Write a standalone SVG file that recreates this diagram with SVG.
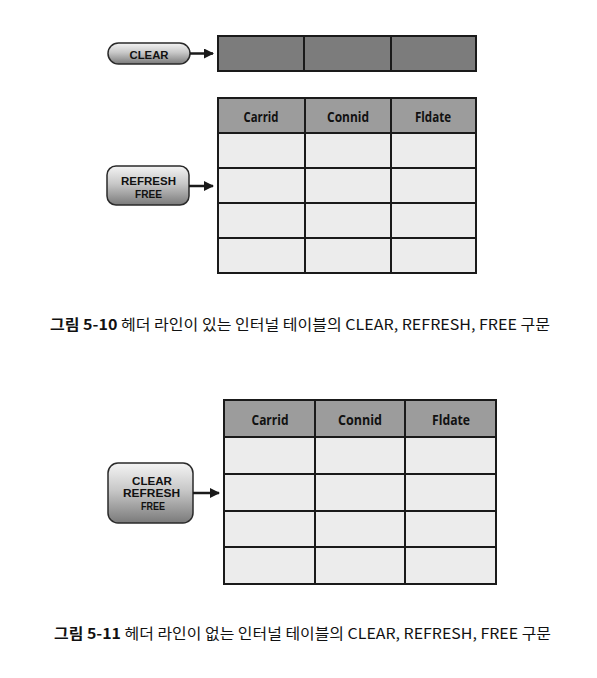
<svg xmlns="http://www.w3.org/2000/svg" width="597" height="678" viewBox="0 0 597 678">
<defs>
<linearGradient id="btn" x1="0" y1="0" x2="0" y2="1">
<stop offset="0" stop-color="#f4f4f4"/>
<stop offset="0.45" stop-color="#c8c8c8"/>
<stop offset="1" stop-color="#7a7a7a"/>
</linearGradient>
<marker id="ah" viewBox="0 0 10 10" refX="9" refY="5" markerWidth="4" markerHeight="4" orient="auto" markerUnits="strokeWidth">
<path d="M0,0 L10,5 L0,10 Z" fill="#1a1a1a"/>
</marker>
<style>
.btn{fill:url(#btn);stroke:#2a2a2a;stroke-width:1.5}
.bt{font-family:"Liberation Sans",Arial,sans-serif;font-weight:bold;font-size:11px;fill:#111;text-anchor:middle}
.hd{fill:#9c9c9c}
.dk{fill:#7c7c7c}
.rw{fill:#ececec}
.ln{stroke:#1a1a1a;stroke-width:2;fill:none}
.ht{font-family:"Open Sans","Liberation Sans",sans-serif;font-weight:bold;font-size:14px;fill:#111;text-anchor:middle}
.cap{font-family:"Noto Sans CJK KR","Liberation Sans",sans-serif;font-size:14.5px;fill:#111}
.arr{stroke:#1a1a1a;stroke-width:2.5;fill:none;marker-end:url(#ah)}
</style>
</defs>
<rect width="597" height="678" fill="#ffffff"/>

<g id="table-clear">
<rect class="dk" x="218" y="36" width="258" height="35"/>
<rect class="ln" x="218" y="36" width="258" height="35"/>
<line class="ln" x1="304" y1="36" x2="304" y2="71"/>
<line class="ln" x1="391" y1="36" x2="391" y2="71"/>
</g>

<g id="btn-clear">
<rect class="btn" x="108" y="43" width="82" height="21" rx="10.5"/>
<text class="bt" x="149" y="59" font-size="14" textLength="39" lengthAdjust="spacingAndGlyphs">CLEAR</text>
</g>

<g id="table-1">
<rect class="rw" x="218" y="98" width="258" height="175"/>
<rect class="hd" x="218" y="98" width="258" height="35"/>
<rect class="ln" x="218" y="98" width="258" height="175"/>
<line class="ln" x1="218" y1="133" x2="476" y2="133"/>
<line class="ln" x1="218" y1="168" x2="476" y2="168"/>
<line class="ln" x1="218" y1="203" x2="476" y2="203"/>
<line class="ln" x1="218" y1="238" x2="476" y2="238"/>
<line class="ln" x1="305" y1="98" x2="305" y2="273"/>
<line class="ln" x1="391" y1="98" x2="391" y2="273"/>
<text class="ht" x="261" y="122" textLength="35" lengthAdjust="spacingAndGlyphs">Carrid</text>
<text class="ht" x="348" y="122" textLength="42" lengthAdjust="spacingAndGlyphs">Connid</text>
<text class="ht" x="433" y="122" textLength="36" lengthAdjust="spacingAndGlyphs">Fldate</text>
</g>

<g id="btn-refresh-free">
<rect class="btn" x="107" y="166" width="82" height="39" rx="9"/>
<text class="bt" x="148.5" y="185" textLength="55" lengthAdjust="spacingAndGlyphs">REFRESH</text>
<text class="bt" x="148.5" y="197.5" textLength="27" lengthAdjust="spacingAndGlyphs">FREE</text>
</g>

<g id="table-2">
<rect class="rw" x="224" y="400" width="272" height="184"/>
<rect class="hd" x="224" y="400" width="272" height="37"/>
<rect class="ln" x="224" y="400" width="272" height="184"/>
<line class="ln" x1="224" y1="437" x2="496" y2="437"/>
<line class="ln" x1="224" y1="474" x2="496" y2="474"/>
<line class="ln" x1="224" y1="511" x2="496" y2="511"/>
<line class="ln" x1="224" y1="547" x2="496" y2="547"/>
<line class="ln" x1="315" y1="400" x2="315" y2="584"/>
<line class="ln" x1="405" y1="400" x2="405" y2="584"/>
<text class="ht" x="270" y="425" textLength="37" lengthAdjust="spacingAndGlyphs">Carrid</text>
<text class="ht" x="360" y="425" textLength="44" lengthAdjust="spacingAndGlyphs">Connid</text>
<text class="ht" x="451" y="425" textLength="38" lengthAdjust="spacingAndGlyphs">Fldate</text>
</g>

<g id="btn-clear-refresh-free">
<rect class="btn" x="108" y="463" width="85" height="60" rx="10"/>
<text class="bt" x="152" y="484.5" textLength="40" lengthAdjust="spacingAndGlyphs">CLEAR</text>
<text class="bt" x="151.5" y="497" textLength="57" lengthAdjust="spacingAndGlyphs">REFRESH</text>
<text class="bt" x="153" y="509.5" textLength="24" lengthAdjust="spacingAndGlyphs">FREE</text>
</g>

<g id="connectors">
<line class="arr" x1="190" y1="53.5" x2="213" y2="53.5"/>
<line class="arr" x1="189" y1="186" x2="213" y2="186"/>
<line class="arr" x1="193" y1="493" x2="219" y2="493"/>
</g>

<g id="captions">
<text class="cap" x="50" y="330" textLength="500" lengthAdjust="spacingAndGlyphs"><tspan font-weight="bold">그림 5-10</tspan> 헤더 라인이 있는 인터널 테이블의 CLEAR, REFRESH, FREE 구문</text>
<text class="cap" x="54" y="639" textLength="497" lengthAdjust="spacingAndGlyphs"><tspan font-weight="bold">그림 5-11</tspan> 헤더 라인이 없는 인터널 테이블의 CLEAR, REFRESH, FREE 구문</text>
</g>
</svg>
